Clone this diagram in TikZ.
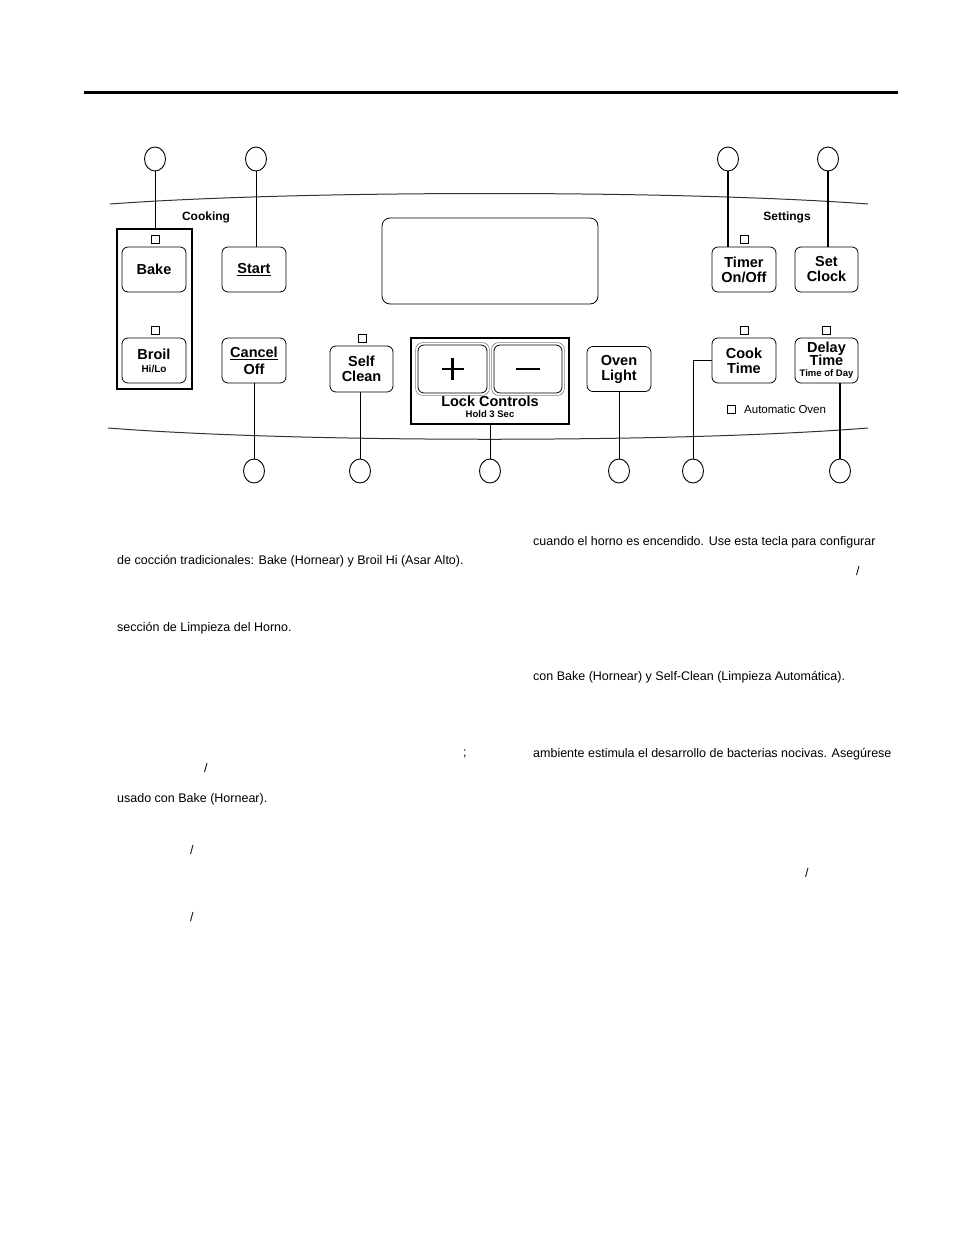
\documentclass[tikz,border=0pt]{standalone}
\usepackage{fontspec}
\setmainfont{Liberation Sans}
\usetikzlibrary{shapes.geometric,calc}
\begin{document}
\begin{tikzpicture}[x=1pt,y=-1pt,
  btn/.style={draw, rounded corners=6pt, line width=0.8pt, minimum width=64pt, minimum height=45pt,
    inner sep=0pt, align=center, font=\bfseries\fontsize{14.5}{15}\selectfont},
  pmkey/.style={draw, rounded corners=6pt, line width=0.8pt, minimum height=48pt, inner sep=0pt},
  grpbox/.style={draw, line width=2.6pt, inner sep=0pt},
  callout/.style={draw, ellipse, minimum width=21pt, minimum height=24pt, inner sep=0pt, line width=0.9pt},
  ind/.style={draw, minimum size=8pt, inner sep=0pt, line width=0.7pt},
  thinc/.style={line width=0.8pt},
  thickc/.style={line width=1.5pt},
  symb/.style={line width=2.2pt},
  lbl/.style={inner sep=0pt, font=\bfseries\fontsize{12}{12}\selectfont},
  body/.style={anchor=west, inner sep=0pt, font=\fontsize{12.5}{12.5}\selectfont}
]
\useasboundingbox (0,0) rectangle (954,1235);
% top rule
\draw[line width=3pt] (84,92) -- (898,92);
% panel curves
\draw[line width=1pt, black!80] (110,204) .. controls (300,190) and (680,190) .. (868,204);
\draw[line width=1pt, black!80] (108,428) .. controls (300,443) and (680,443) .. (868,428);

% section labels
\node[lbl] (cooking) at (206,217) {Cooking};
\node[lbl] (settings) at (787,217) {Settings};

% display
\node[draw, rounded corners=8pt, line width=0.8pt, minimum width=216pt, minimum height=86pt] (disp) at (490,261) {};

% cooking group
\node[grpbox, minimum width=75pt, minimum height=160pt] (grp1) at (154.5,309) {};
\node[btn] (bake) at (154,269.5) {Bake};
\node[btn] (broil) at (154,360.5) {Broil\\[-2pt]{\fontsize{10}{10}\selectfont Hi/Lo}};
\node[ind] (ibake) at (155,239) {};
\node[ind] (ibroil) at (155,330) {};

\node[btn] (start) at (254,269.5) {\underline{Start}};
\node[btn] (cancel) at (254,360.5) {\underline{Cancel}\\[2pt]Off};

\node[btn, minimum width=63pt, minimum height=46pt] (selfc) at (361.5,369) {Self\\Clean};
\node[ind] (iself) at (362,338) {};

% lock controls group
\node[grpbox, minimum width=158pt, minimum height=86pt] (lock) at (490,381) {};
\node[pmkey, minimum width=69pt] (plus) at (452.5,369) {};
\node[pmkey, minimum width=68pt] (minus) at (528,369) {};
\draw[gray, line width=0.6pt, rounded corners=7pt] ($(plus.south west)+(-2,2)$) rectangle ($(plus.north east)+(2,-2)$);
\draw[gray, line width=0.6pt, rounded corners=7pt] ($(minus.south west)+(-2,2)$) rectangle ($(minus.north east)+(2,-2)$);
\draw[symb] ($(plus.center)+(-11,0)$) -- ($(plus.center)+(11,0)$);
\draw[symb] ($(plus.center)+(0,-11)$) -- ($(plus.center)+(0,11)$);
\draw[symb] ($(minus.center)+(-12,0)$) -- ($(minus.center)+(12,0)$);
\node[inner sep=0pt, font=\bfseries\fontsize{14.5}{14.5}\selectfont] (locklbl) at (490,401) {Lock Controls};
\node[inner sep=0pt, font=\bfseries\fontsize{9.5}{9.5}\selectfont] (holdlbl) at (490,414) {Hold 3 Sec};

\node[btn] (oven) at (619,369) {Oven\\Light};

% settings
\node[btn] (timer) at (744,269.5) {Timer\\On/Off};
\node[btn, minimum width=63pt] (setclk) at (826.5,269.5) {Set\\Clock};
\node[ind] (itimer) at (744,239) {};
\node[btn] (cook) at (744,360.5) {Cook\\Time};
\node[btn, minimum width=63pt, font=\bfseries\fontsize{14.5}{14}\selectfont] (delay) at (826.5,360.5) {Delay\\[-1pt]Time\\[-3pt]{\fontsize{9.5}{9.5}\selectfont Time of Day}};
\node[ind] (icook) at (744,330) {};
\node[ind] (idelay) at (826,330) {};
\node[ind] (iauto) at (731,409) {};
\node[anchor=west, inner sep=0pt, font=\fontsize{11.5}{11.5}\selectfont] (autolbl) at (744,409) {Automatic Oven};

% callout circles
\node[callout] (c1) at (155,159) {};
\node[callout] (c2) at (256,159) {};
\node[callout] (c3) at (728,159) {};
\node[callout] (c4) at (828,159) {};
\node[callout] (c5) at (254,471) {};
\node[callout] (c6) at (360,471) {};
\node[callout] (c7) at (490,471) {};
\node[callout] (c8) at (619,471) {};
\node[callout] (c9) at (693,471) {};
\node[callout] (c10) at (840,471) {};

% connectors
\draw[thinc] (c1.south) -- (c1.south |- grp1.north);
\draw[thinc] (c2.south) -- (c2.south |- start.north);
\draw[thickc] (c3.south) -- (c3.south |- timer.north);
\draw[thickc] (c4.south) -- (c4.south |- setclk.north);
\draw[thinc] (c5.north) -- (c5.north |- cancel.south);
\draw[thinc] (c6.north) -- (c6.north |- selfc.south);
\draw[thinc] (c7.north) -- (c7.north |- lock.south);
\draw[thinc] (c8.north) -- (c8.north |- oven.south);
\draw[thinc] (cook.west) -| (c9.north);
\draw[thickc] (c10.north) -- (c10.north |- delay.south);

% body text fragments
\node[body] (t1) at (117,561) {de cocción tradicionales: Bake (Hornear) y Broil Hi (Asar Alto).};
\node[body] (t2) at (117,628) {sección de Limpieza del Horno.};
\node[body] (t3) at (463,754) {;};
\node[body] (t4) at (204,768) {/};
\node[body] (t5) at (117,799) {usado con Bake (Hornear).};
\node[body] (t6) at (190,850) {/};
\node[body] (t7) at (190,917) {/};
\node[body] (t8) at (533,542) {cuando el horno es encendido. Use esta tecla para configurar};
\node[body] (t9) at (856,571) {/};
\node[body] (t10) at (533,677) {con Bake (Hornear) y Self-Clean (Limpieza Automática).};
\node[body] (t11) at (533,754) {ambiente estimula el desarrollo de bacterias nocivas. Asegúrese};
\node[body] (t12) at (805,873) {/};
\end{tikzpicture}
\end{document}
